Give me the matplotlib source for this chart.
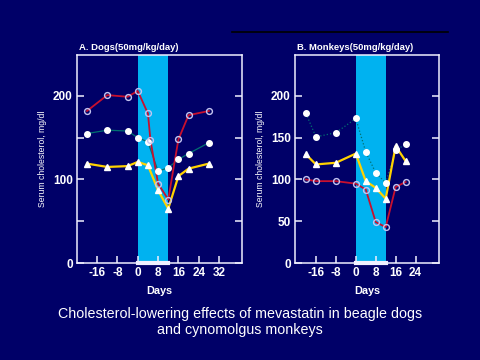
import matplotlib
matplotlib.use("Agg")
import matplotlib.pyplot as plt
from matplotlib.lines import Line2D

# Dogs (A)
dog_days = [-20, -12, -4, 0, 4, 8, 12, 16, 20, 28]
dog_red_days = [-20, -12, -4, 0, 4, 5, 8, 12, 16, 20, 28]
dog_red = [182, 201, 199, 206, 179, 147, 95, 76, 148, 177, 182]
dog_green = [155, 159, 158, 150, 145, 110, 114, 124, 131, 144]
dog_yellow = [119, 115, 116, 121, 117, 87, 65, 104, 113, 119]

# Monkeys (B)
mon_days = [-20, -16, -8, 0, 4, 8, 12, 16, 20]
mon_green = [179, 151, 156, 173, 133, 108, 96, 135, 142]
mon_yellow = [130, 118, 120, 131, 98, 90, 77, 140, 122]
mon_red = [100, 98, 98, 95, 88, 49, 43, 91, 97]

dose_start, dose_end = 0, 12

BG = "#000068"
CYAN = "#00b2f0"
WHITE = "#f0f0ff"
RED = "#c8102e"
TEAL = "#007070"
YELLOW = "#ffd200"
RING = "#c4c4f0"

plt.rcParams["font.family"] = ["Liberation Sans", "DejaVu Sans"]
plt.rcParams["axes.unicode_minus"] = False

fig = plt.figure(figsize=(4.8, 3.6), dpi=100, facecolor=BG)


def panel(rect, xlim, xticks, ylabels, title, days, red_days, red, green, yellow, green_ls):
    ax = fig.add_axes(rect)
    ax.set_facecolor(BG)
    ax.set_xlim(*xlim)
    ax.set_ylim(0, 249)
    ax.axvspan(dose_start, dose_end, color=CYAN, lw=0, zorder=0)
    ax.plot([dose_start, dose_end], [0, 0], color=WHITE, lw=3, clip_on=False, zorder=1)

    ax.plot(days, green, color=TEAL, lw=0.9, ls=green_ls, zorder=2)
    ax.plot(red_days, red, color=RED, lw=1.3, zorder=3)
    ax.plot(days, yellow, color=YELLOW, lw=1.6, zorder=4)
    ax.plot(days, green, ls="none", marker="o", ms=4, mfc="white", mec="white", zorder=5)
    ax.plot(days, yellow, ls="none", marker="^", ms=4, mfc="white", mec="white", zorder=5)
    ax.plot(red_days, red, ls="none", marker="o", ms=4.2, mfc="none", mec=RING, mew=1.0, zorder=6)

    for s in ["left", "right", "bottom", "top"]:
        ax.spines[s].set_color(WHITE)
        ax.spines[s].set_linewidth(1.1)
    ax.set_xticks(xticks)
    ax.set_xticklabels([str(t) for t in xticks])
    ax.set_yticks([0, 50, 100, 150, 200])
    ax.set_yticklabels(ylabels)
    ax.tick_params(direction="in", length=5, width=1.1, color=WHITE,
                   labelcolor="white", labelsize=8.5, right=True, top=False, pad=3)
    for lab in ax.get_xticklabels() + ax.get_yticklabels():
        lab.set_fontweight("bold")
    ax.set_ylabel("Serum cholesterol, mg/dl", color="white", fontsize=6.2, labelpad=4)
    ax.set_xlabel("Days", color="white", fontsize=7.8, fontweight="bold", labelpad=5)
    ax.text(0.015, 1.015, title, transform=ax.transAxes, color="white",
            fontsize=6.8, fontweight="bold", ha="left", va="bottom")
    return ax


panel([0.160, 0.2694, 0.344, 0.5778], (-24, 41), [-16, -8, 0, 8, 16, 24, 32],
      ["0", "", "100", "", "200"], "A. Dogs(50mg/kg/day)",
      dog_days, dog_red_days, dog_red, dog_green, dog_yellow, "-")
panel([0.6146, 0.2694, 0.300, 0.5778], (-24.4, 33.4), [-16, -8, 0, 8, 16, 24],
      ["0", "50", "100", "150", "200"], "B. Monkeys(50mg/kg/day)",
      mon_days, mon_days, mon_red, mon_green, mon_yellow, ":")

# thin dark rule at the top of the slide
fig.add_artist(Line2D([232 / 480, 448 / 480], [1 - 32 / 360, 1 - 32 / 360],
                      color="black", lw=1.2, transform=fig.transFigure))

fig.text(0.5, 1 - 322 / 360,
         "Cholesterol-lowering effects of mevastatin in beagle dogs\nand cynomolgus monkeys",
         color="white", fontsize=10.3, ha="center", va="center", linespacing=1.1)

fig.savefig("out.png", dpi=100, facecolor=BG)
